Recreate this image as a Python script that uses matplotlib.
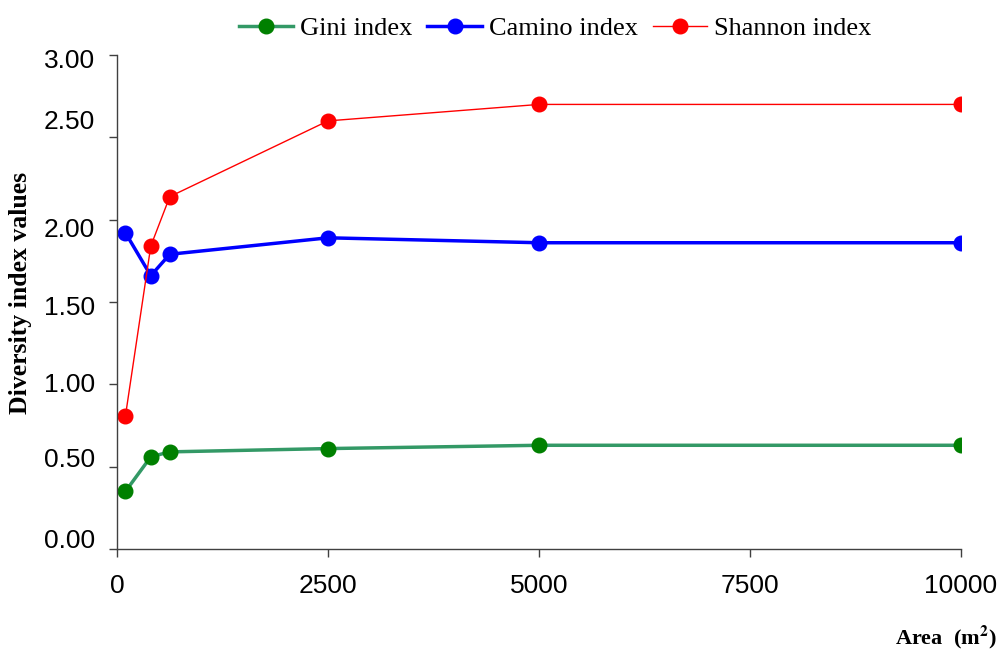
import matplotlib.pyplot as plt
from matplotlib.transforms import ScaledTranslation

# Sampled plot areas (m2) and the three diversity indices
area = [100, 400, 625, 2500, 5000, 10000]
gini = [0.35, 0.56, 0.59, 0.61, 0.63, 0.63]
camino = [1.92, 1.66, 1.79, 1.89, 1.86, 1.86]
shannon = [0.81, 1.84, 2.14, 2.60, 2.70, 2.70]

x_ticks = [0, 2500, 5000, 7500, 10000]
y_ticks = [0.0, 0.5, 1.0, 1.5, 2.0, 2.5, 3.0]
# the original image has its y labels slightly off their ticks (pixels, up)
y_label_shift = [11, 9, 2, -3, -8, 18, -3]

plt.rcParams['mathtext.fontset'] = 'stix'

fig = plt.figure(figsize=(10.02, 6.55), dpi=100)
ax = fig.add_axes([0.1168, 0.1618, 0.8423, 0.7542])

ax.plot(area, gini, '-o', color='#339966', lw=2.5, ms=10.5,
        mfc='#008000', mec='#008000', label='Gini index')
ax.plot(area, camino, '-o', color='#0000ff', lw=2.5, ms=10.5,
        mfc='#0000ff', mec='#0000ff', label='Camino index')
ax.plot(area, shannon, '-o', color='#ff0000', lw=1, ms=10.5,
        mfc='#ff0000', mec='#ff0000', label='Shannon index')

ax.set_xlim(0, 10000)
ax.set_ylim(0, 3)
ax.set_xticks(x_ticks)
ax.set_yticks(y_ticks)
ax.set_yticklabels([f'{v:.2f}' for v in y_ticks])

for s in ['top', 'right']:
    ax.spines[s].set_visible(False)
for s in ['left', 'bottom']:
    ax.spines[s].set_color('#404040')
    ax.spines[s].set_linewidth(1)

ax.tick_params(direction='out', length=6, width=1, color='#404040',
               labelsize=19, pad=10)
ax.tick_params(axis='x', pad=12)
for lab in ax.get_xticklabels() + ax.get_yticklabels():
    lab.set_family('Liberation Sans')
for lab, dy in zip(ax.get_yticklabels(), y_label_shift):
    lab.set_transform(lab.get_transform() +
                      ScaledTranslation(0, dy / 100, fig.dpi_scale_trans))

fig.text(0.02, 0.553, 'Diversity index values', family='Liberation Serif',
         fontweight='bold', fontsize=18.5, rotation=90,
         ha='center', va='center')
fig.text(0.995, 0.016, r'Area  (m$^{\mathbf{2}}$)', family='Liberation Serif',
         fontweight='bold', fontsize=16, ha='right', va='baseline')

leg = ax.legend(loc='center', bbox_to_anchor=(0.554, 0.957),
                bbox_transform=fig.transFigure, ncol=3, frameon=False,
                prop={'family': 'Liberation Serif', 'size': 19},
                handlelength=2.05, handletextpad=0.27, columnspacing=0.57)

fig.savefig('out.png', dpi=100)
